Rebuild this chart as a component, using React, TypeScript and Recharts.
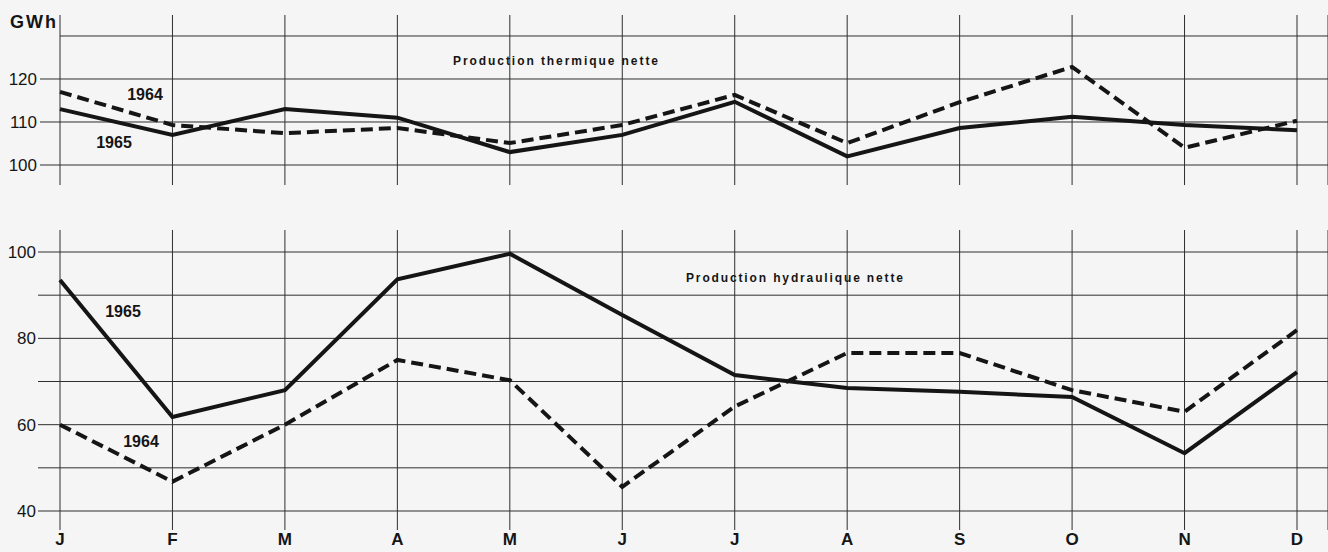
import { LineChart, Line, XAxis, YAxis, CartesianGrid, ReferenceLine } from "recharts";

const months = ["J", "F", "M", "A", "M", "J", "J", "A", "S", "O", "N", "D"];

// GWh, production thermique nette
const thermal1965 = [113, 107, 113, 111, 103, 107, 114.7, 102, 108.6, 111.2, 109.3, 108.1];
const thermal1964 = [117, 109.3, 107.4, 108.6, 105.1, 109.3, 116.3, 105.1, 114.6, 122.8, 104, 110.3];

// GWh, production hydraulique nette
const hydro1965 = [93.5, 61.8, 68, 93.7, 99.6, 85.4, 71.5, 68.5, 67.6, 66.4, 53.4, 72.2];
const hydro1964 = [60, 46.8, 60, 75, 70.3, 45.6, 64.2, 76.6, 76.6, 68, 63, 81.9];

const thermalTicks = [100, 110, 120];
const thermalRows = [100, 110, 120, 130];
const hydroTicks = [40, 50, 60, 70, 80, 90, 100];

const thermalData = months.map((m, i) => ({ month: m, y1965: thermal1965[i], y1964: thermal1964[i] }));
const hydroData = months.map((m, i) => ({ month: m, y1965: hydro1965[i], y1964: hydro1964[i] }));

const INK = "#151515";
const GRID = "#2e2e2e";
const FONT = "'Liberation Sans', Arial, sans-serif";

export default function App() {
  return (
    <div
      style={{
        position: "absolute",
        left: 0,
        top: 0,
        width: 1328,
        height: 552,
        background: "#f5f5f5",
        overflow: "hidden",
        fontFamily: FONT,
      }}
    >
      <div style={{ position: "absolute", left: 0, top: 0 }}>
        <LineChart width={1328} height={190} data={thermalData} margin={{ top: 15, right: 0, bottom: 5, left: 0 }}>
          <CartesianGrid stroke={GRID} strokeWidth={1} horizontal={false} />
          <XAxis dataKey="month" hide padding={{ left: 0, right: 31 }} interval={0} />
          <YAxis
            width={60}
            domain={[95.35, 134.88]}
            allowDataOverflow
            ticks={thermalTicks}
            axisLine={false}
            tickSize={20}
            tickMargin={3}
            tickLine={{ stroke: GRID }}
            tick={{ fill: INK, fontSize: 17, fontFamily: FONT }}
          />
          {thermalRows.map((v) => (
            <ReferenceLine key={v} y={v} stroke={GRID} strokeWidth={1} />
          ))}
          <Line
            type="linear"
            dataKey="y1964"
            stroke={INK}
            strokeWidth={4}
            strokeDasharray="12 6"
            dot={false}
            isAnimationActive={false}
          />
          <Line type="linear" dataKey="y1965" stroke={INK} strokeWidth={4} dot={false} isAnimationActive={false} />
        </LineChart>
      </div>

      <div style={{ position: "absolute", left: 0, top: 190 }}>
        <LineChart width={1328} height={362} data={hydroData} margin={{ top: 40, right: 0, bottom: 0, left: 0 }}>
          <CartesianGrid stroke={GRID} strokeWidth={1} horizontal={false} />
          <XAxis
            dataKey="month"
            height={22}
            padding={{ left: 0, right: 31 }}
            interval={0}
            axisLine={false}
            tickLine={false}
            tickSize={0}
            tickMargin={3}
            tick={{ fill: INK, fontSize: 17, fontWeight: "bold", fontFamily: FONT }}
          />
          <YAxis
            width={60}
            domain={[35.6, 105.1]}
            allowDataOverflow
            ticks={hydroTicks}
            tickFormatter={(v: number) => (v % 20 === 0 ? String(v) : "")}
            axisLine={false}
            tickSize={22}
            tickMargin={2}
            tickLine={{ stroke: GRID }}
            tick={{ fill: INK, fontSize: 17, fontFamily: FONT }}
          />
          {hydroTicks.map((v) => (
            <ReferenceLine key={v} y={v} stroke={GRID} strokeWidth={1} />
          ))}
          <Line
            type="linear"
            dataKey="y1964"
            stroke={INK}
            strokeWidth={4}
            strokeDasharray="12 6"
            dot={false}
            isAnimationActive={false}
          />
          <Line type="linear" dataKey="y1965" stroke={INK} strokeWidth={4} dot={false} isAnimationActive={false} />
        </LineChart>
      </div>

      <svg
        width={1328}
        height={552}
        style={{ position: "absolute", left: 0, top: 0, pointerEvents: "none" }}
        fontFamily={FONT}
        fill={INK}
      >
        <text x={10} y={28} fontSize={18} fontWeight="bold" textLength={46} lengthAdjust="spacing">GWh</text>
        <text x={453} y={65} fontSize={12} fontWeight="bold" textLength={205} lengthAdjust="spacing">
          Production thermique nette
        </text>
        <text x={686} y={282} fontSize={12} fontWeight="bold" textLength={217} lengthAdjust="spacing">
          Production hydraulique nette
        </text>
        <text x={145} y={100} fontSize={16} fontWeight="bold" textAnchor="middle">1964</text>
        <text x={114} y={148} fontSize={16} fontWeight="bold" textAnchor="middle">1965</text>
        <text x={123} y={317} fontSize={16} fontWeight="bold" textAnchor="middle">1965</text>
        <text x={141} y={447} fontSize={16} fontWeight="bold" textAnchor="middle">1964</text>
      </svg>
    </div>
  );
}
